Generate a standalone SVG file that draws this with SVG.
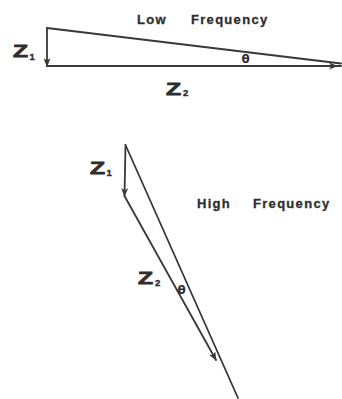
<svg xmlns="http://www.w3.org/2000/svg" width="342" height="399" viewBox="0 0 342 399">
<style>
.ln{stroke:#383838;stroke-width:1.8;fill:none;stroke-linecap:round}
.lbl{font-family:"Liberation Sans",Arial,sans-serif;font-weight:bold;fill:#2e2e2e;stroke:#2e2e2e;stroke-width:0.3;font-size:13px;letter-spacing:1.3px}
.z{font-family:"Liberation Sans",Arial,sans-serif;font-weight:bold;fill:#2e2e2e;stroke:#2e2e2e;stroke-width:0.8;font-size:16px}
.sub{font-family:"Liberation Sans",Arial,sans-serif;font-weight:bold;fill:#2e2e2e;stroke:#2e2e2e;stroke-width:0.4;font-size:9.5px}
.th{font-family:"DejaVu Sans",sans-serif;font-weight:bold;fill:#2e2e2e;font-size:12px}
</style>
<defs>
<marker id="ah" viewBox="0 0 10 8" refX="9" refY="4" markerWidth="9" markerHeight="7" markerUnits="userSpaceOnUse" orient="auto">
<path d="M0,0 L10,4 L0,8 L2.5,4 z" fill="#383838"/>
</marker>
</defs>
<rect width="342" height="399" fill="#ffffff"/>
<g id="connectors">
<line class="ln" x1="47" y1="28" x2="47" y2="66" marker-end="url(#ah)"/>
<line class="ln" x1="47" y1="66" x2="337" y2="66" marker-end="url(#ah)"/>
<line class="ln" x1="337" y1="66" x2="341" y2="66"/>
<line class="ln" x1="47" y1="28" x2="341" y2="63.5"/>
<line class="ln" x1="125.5" y1="145" x2="124.5" y2="196" marker-end="url(#ah)"/>
<line class="ln" x1="124.5" y1="196" x2="216" y2="360" marker-end="url(#ah)"/>
<line class="ln" x1="125.5" y1="145" x2="238" y2="398"/>
</g>
<g id="low-frequency">
<text class="lbl" x="137" y="24">Low</text>
<text class="lbl" x="191" y="24">Frequency</text>
</g>
<g id="z1-top">
<text class="z" x="13" y="57" textLength="15" lengthAdjust="spacingAndGlyphs">Z</text>
<text class="sub" x="29.5" y="60">1</text>
</g>
<g id="z2-top">
<text class="z" x="166" y="94.5" textLength="15" lengthAdjust="spacingAndGlyphs">Z</text>
<text class="sub" x="183" y="96">2</text>
</g>
<g id="theta-top">
<text class="th" x="241.5" y="62.5">θ</text>
</g>
<g id="high-frequency">
<text class="lbl" x="197" y="208">High</text>
<text class="lbl" x="253" y="208">Frequency</text>
</g>
<g id="z1-bottom">
<text class="z" x="90" y="173.5" textLength="15" lengthAdjust="spacingAndGlyphs">Z</text>
<text class="sub" x="106.5" y="175.5">1</text>
</g>
<g id="z2-bottom">
<text class="z" x="138" y="283.5" textLength="15" lengthAdjust="spacingAndGlyphs">Z</text>
<text class="sub" x="155" y="285.5">2</text>
</g>
<g id="theta-bottom">
<text class="th" x="177.5" y="293.5">θ</text>
</g>
</svg>
